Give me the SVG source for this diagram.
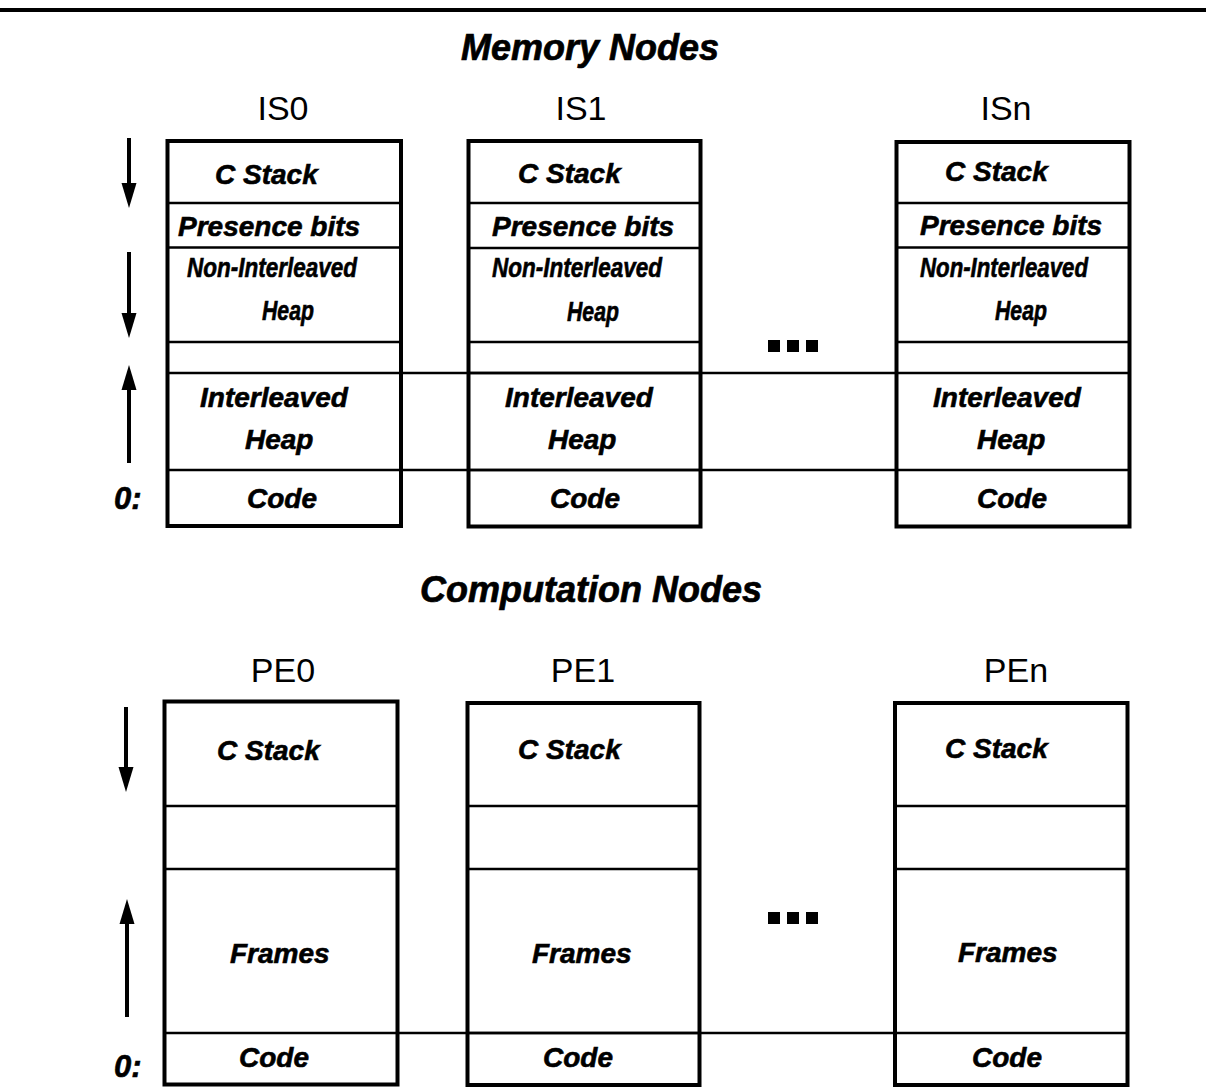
<svg xmlns="http://www.w3.org/2000/svg" width="1206" height="1089" viewBox="0 0 1206 1089">
<defs>
<style>
.box{fill:none;stroke:#000;stroke-width:4}
.div{stroke:#000;stroke-width:2.5}
.conn{stroke:#000;stroke-width:2.5;fill:none}
.arr{stroke:#000;stroke-width:4;fill:none}
.t{font-family:"Liberation Sans",Arial,sans-serif;font-weight:bold;font-style:italic;font-size:28px;fill:#000;stroke:#000;stroke-width:0.6}
.title{font-family:"Liberation Sans",Arial,sans-serif;font-weight:bold;font-style:italic;font-size:36px;fill:#000;stroke:#000;stroke-width:0.7}
.lbl{font-family:"Liberation Sans",Arial,sans-serif;font-size:34px;fill:#000}
.dot{fill:#000}
</style>
<marker id="ah" markerUnits="userSpaceOnUse" markerWidth="28" markerHeight="18" viewBox="0 -9 28 18" refX="1" refY="0" orient="auto">
<path d="M0,-7.5 L25,0 L0,7.5 Z" fill="#000"/>
</marker>
</defs>
<rect width="1206" height="1089" fill="#fff"/>
<line x1="0" y1="10" x2="1206" y2="10" stroke="#000" stroke-width="4"/>

<text class="title" x="590" y="60" text-anchor="middle">Memory Nodes</text>
<text class="title" x="591" y="602" text-anchor="middle">Computation Nodes</text>

<g id="connectors">
<line class="conn" x1="401" y1="373" x2="896" y2="373"/>
<line class="conn" x1="401" y1="470" x2="896" y2="470"/>
<line class="conn" x1="397" y1="1033" x2="895" y2="1033"/>
</g>

<g id="arrows">
<line class="arr" x1="129" y1="138" x2="129" y2="184" marker-end="url(#ah)"/>
<line class="arr" x1="129" y1="252" x2="129" y2="314" marker-end="url(#ah)"/>
<line class="arr" x1="129" y1="463" x2="129" y2="389" marker-end="url(#ah)"/>
<line class="arr" x1="126" y1="707" x2="126" y2="768" marker-end="url(#ah)"/>
<line class="arr" x1="127" y1="1017" x2="127" y2="923" marker-end="url(#ah)"/>
<text class="t" x="114" y="509" style="font-size:31px">0:</text>
<text class="t" x="114" y="1077" style="font-size:31px">0:</text>
</g>

<g id="IS0">
<text class="lbl" x="283" y="120" text-anchor="middle">IS0</text>
<rect class="box" x="167.5" y="141" width="233.5" height="385"/>
<line class="div" x1="167.5" y1="203" x2="401" y2="203"/>
<line class="div" x1="167.5" y1="247.5" x2="401" y2="247.5"/>
<line class="div" x1="167.5" y1="342" x2="401" y2="342"/>
<line class="div" x1="167.5" y1="373" x2="401" y2="373"/>
<line class="div" x1="167.5" y1="470" x2="401" y2="470"/>
<text class="t" x="215" y="184">C Stack</text>
<text class="t" x="178" y="236">Presence bits</text>
<text class="t" x="187" y="277" textLength="170" lengthAdjust="spacingAndGlyphs">Non-Interleaved</text>
<text class="t" x="262" y="320" textLength="52" lengthAdjust="spacingAndGlyphs">Heap</text>
<text class="t" x="200" y="407">Interleaved</text>
<text class="t" x="245" y="449">Heap</text>
<text class="t" x="247" y="508">Code</text>
</g>

<g id="IS1">
<text class="lbl" x="581" y="120" text-anchor="middle">IS1</text>
<rect class="box" x="468.5" y="141" width="232" height="385.5"/>
<line class="div" x1="468.5" y1="203" x2="700.5" y2="203"/>
<line class="div" x1="468.5" y1="248" x2="700.5" y2="248"/>
<line class="div" x1="468.5" y1="342" x2="700.5" y2="342"/>
<line class="div" x1="468.5" y1="373" x2="700.5" y2="373"/>
<line class="div" x1="468.5" y1="470" x2="700.5" y2="470"/>
<text class="t" x="518" y="183">C Stack</text>
<text class="t" x="492" y="236">Presence bits</text>
<text class="t" x="492" y="277" textLength="170" lengthAdjust="spacingAndGlyphs">Non-Interleaved</text>
<text class="t" x="567" y="321" textLength="52" lengthAdjust="spacingAndGlyphs">Heap</text>
<text class="t" x="505" y="407">Interleaved</text>
<text class="t" x="548" y="449">Heap</text>
<text class="t" x="550" y="508">Code</text>
</g>

<g id="ISn">
<text class="lbl" x="1006" y="120" text-anchor="middle">ISn</text>
<rect class="box" x="896.5" y="142" width="233" height="384.5"/>
<line class="div" x1="896.5" y1="203" x2="1129.5" y2="203"/>
<line class="div" x1="896.5" y1="247.5" x2="1129.5" y2="247.5"/>
<line class="div" x1="896.5" y1="342" x2="1129.5" y2="342"/>
<line class="div" x1="896.5" y1="373" x2="1129.5" y2="373"/>
<line class="div" x1="896.5" y1="470" x2="1129.5" y2="470"/>
<text class="t" x="945" y="181">C Stack</text>
<text class="t" x="920" y="235">Presence bits</text>
<text class="t" x="920" y="277" textLength="168" lengthAdjust="spacingAndGlyphs">Non-Interleaved</text>
<text class="t" x="995" y="320" textLength="52" lengthAdjust="spacingAndGlyphs">Heap</text>
<text class="t" x="933" y="407">Interleaved</text>
<text class="t" x="977" y="449">Heap</text>
<text class="t" x="977" y="508">Code</text>
</g>

<g id="is-dots">
<rect class="dot" x="768" y="340" width="12" height="12"/>
<rect class="dot" x="787" y="340" width="12" height="12"/>
<rect class="dot" x="806" y="340" width="12" height="12"/>
</g>

<g id="PE0">
<text class="lbl" x="283" y="682" text-anchor="middle">PE0</text>
<rect class="box" x="164.5" y="701.5" width="233" height="383"/>
<line class="div" x1="164.5" y1="806" x2="397.5" y2="806"/>
<line class="div" x1="164.5" y1="869" x2="397.5" y2="869"/>
<line class="div" x1="164.5" y1="1033" x2="397.5" y2="1033"/>
<text class="t" x="217" y="760">C Stack</text>
<text class="t" x="230" y="963">Frames</text>
<text class="t" x="239" y="1067">Code</text>
</g>

<g id="PE1">
<text class="lbl" x="583" y="682" text-anchor="middle">PE1</text>
<rect class="box" x="467.5" y="703" width="232" height="382"/>
<line class="div" x1="467.5" y1="806" x2="699.5" y2="806"/>
<line class="div" x1="467.5" y1="869" x2="699.5" y2="869"/>
<line class="div" x1="467.5" y1="1033" x2="699.5" y2="1033"/>
<text class="t" x="518" y="759">C Stack</text>
<text class="t" x="532" y="963">Frames</text>
<text class="t" x="543" y="1067">Code</text>
</g>

<g id="PEn">
<text class="lbl" x="1016" y="682" text-anchor="middle">PEn</text>
<rect class="box" x="895" y="703" width="232.5" height="382"/>
<line class="div" x1="895" y1="806" x2="1127.5" y2="806"/>
<line class="div" x1="895" y1="869" x2="1127.5" y2="869"/>
<line class="div" x1="895" y1="1033" x2="1127.5" y2="1033"/>
<text class="t" x="945" y="758">C Stack</text>
<text class="t" x="958" y="962">Frames</text>
<text class="t" x="972" y="1067">Code</text>
</g>

<g id="pe-dots">
<rect class="dot" x="768" y="912" width="12" height="12"/>
<rect class="dot" x="787" y="912" width="12" height="12"/>
<rect class="dot" x="806" y="912" width="12" height="12"/>
</g>
</svg>
